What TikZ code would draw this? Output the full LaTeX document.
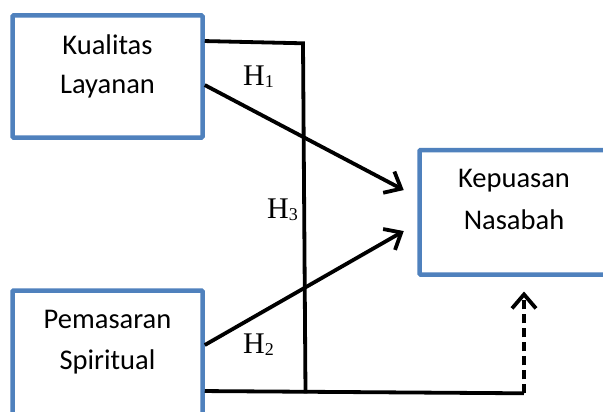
\documentclass[tikz,border=0pt]{standalone}
\usepackage{fontspec}
\setmainfont{Carlito}
\newfontfamily\hfont{Liberation Serif}
\usetikzlibrary{arrows.meta,calc}
\definecolor{boxblue}{HTML}{4F81BD}
\newcommand{\hyplabel}[1]{H\raisebox{-2pt}{\fontsize{18}{18}\selectfont #1}}
\begin{document}
\begin{tikzpicture}[x=1pt,y=-1pt,
  box/.style={draw=boxblue,line width=4.5pt,minimum width=190pt,inner sep=0pt,rounded corners=1pt},
  lbl/.style={anchor=base,font=\fontsize{28.5}{28.5}\selectfont,inner sep=0pt},
  hyp/.style={anchor=base west,font=\hfont\fontsize{30}{30}\selectfont,inner sep=0pt},
  con/.style={line width=3.8pt,line join=miter},
  tipped/.style={-{Straight Barb[length=14pt,width=24pt]}},
  dashline/.style={dash pattern=on 9pt off 5pt}]
\useasboundingbox (0,0) rectangle (603,412);
\clip (0,0) rectangle (603,412);
\fill[white] (0,0) rectangle (603,412);

% boxes
\node[box,minimum height=122pt] (k) at (107.5,76.5) {};
\node[box,minimum height=130pt] (ps) at (107.5,355.5) {};
\node[box,minimum height=124.5pt] (kp) at (514.5,212.25) {};

% box texts
\node[lbl] (k1) at (107.5,55) {Kualitas};
\node[lbl] (k2) at (107.5,93) {Layanan};
\node[lbl] (p1) at (107.5,328) {Pemasaran};
\node[lbl] (p2) at (107.5,369) {Spiritual};
\node[lbl] (n1) at (514,187) {Kepuasan};
\node[lbl] (n2) at (514,229) {Nasabah};

% junction coordinates
\coordinate (h3top) at (303,43.3);
\coordinate (h3bot) at (305.5,393.3);
\coordinate (dcorner) at (524,393.3);
\coordinate (dtip) at (524,291.5);

% H3 path
\draw[con] ([yshift=-27.8pt]k.north east) -- (h3top) -- (h3bot);
% H1 and H2 arrows
\draw[con,tipped] ([yshift=-71.8pt]k.north east) -- ([xshift=-13.5pt,yshift=-42.3pt]kp.north west);
\draw[con,tipped] ([yshift=-56.8pt]ps.north east) -- ([xshift=-13.5pt,yshift=-83.3pt]kp.north west);
% bottom line and dashed arrow
\draw[con] ([yshift=-102.8pt]ps.north east) -- (dcorner);
\draw[con,dashline,tipped] (dcorner) -- (dtip);

% hypothesis labels
\node[hyp] (h1) at (243,85) {\hyplabel{1}};
\node[hyp] (h3) at (267,218) {\hyplabel{3}};
\node[hyp] (h2) at (243,353) {\hyplabel{2}};
\end{tikzpicture}
\end{document}
